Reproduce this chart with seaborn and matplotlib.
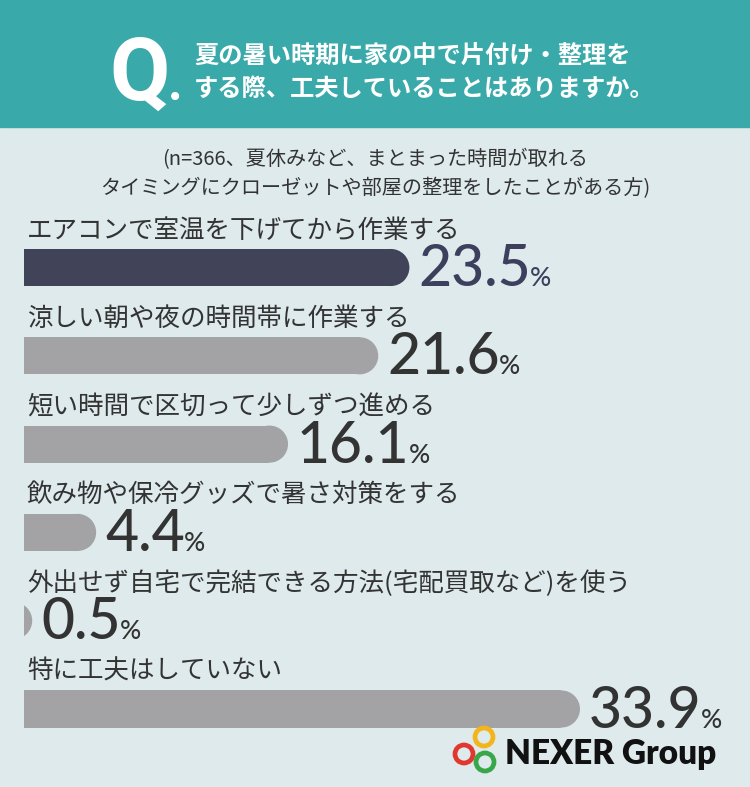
import matplotlib
matplotlib.use("Agg")
import matplotlib.pyplot as plt
from matplotlib.patches import Rectangle, Ellipse, Circle
import seaborn as sns

# data
categories = [
    "エアコンで室温を下げてから作業する",
    "涼しい朝や夜の時間帯に作業する",
    "短い時間で区切って少しずつ進める",
    "飲み物や保冷グッズで暑さ対策をする",
    "外出せず自宅で完結できる方法(宅配買取など)を使う",
    "特に工夫はしていない",
]
values = [23.5, 21.6, 16.1, 4.4, 0.5, 33.9]
highlight = [True, False, False, False, False, False]

question = ["夏の暑い時期に家の中で片付け・整理を", "する際、工夫していることはありますか。"]
note = ["(n=366、夏休みなど、まとまった時間が取れる",
        "タイミングにクローゼットや部屋の整理をしたことがある方)"]

TEAL = "#3aa9aa"
BG = "#deeaec"
NAVY = "#3d405c"
GREY = "#a2a3a7"
TXT = "#333333"

sns.set_theme(style="white")
plt.rcParams["font.family"] = ["Noto Sans CJK JP", "DejaVu Sans"]

W, H = 750, 787
fig = plt.figure(figsize=(W / 100, H / 100), dpi=100)
fig.patch.set_facecolor(BG)


def fx(x):
    return x / W


def fy(y):
    return 1 - y / H


# header band
fig.add_artist(Rectangle((0, fy(127)), 1, 127 / H, transform=fig.transFigure,
                         color=TEAL, zorder=0))
fig.text(fx(109), fy(100), "Q", color="white", fontsize=63, fontweight="bold",
         family=["Roboto", "DejaVu Sans"], va="baseline", ha="left")
fig.text(fx(168), fy(100), ".", color="white", fontsize=36, fontweight="bold",
         family=["Roboto", "DejaVu Sans"], va="baseline", ha="left")
fig.text(fx(194), fy(56), question[0], color="white", fontsize=17.5,
         fontweight="bold", va="center", ha="left")
fig.text(fx(194), fy(89), question[1], color="white", fontsize=17.5,
         fontweight="bold", va="center", ha="left")

# sample note
fig.text(0.5, fy(160), note[0], color=TXT, fontsize=14.5, va="center", ha="center")
fig.text(0.5, fy(189), note[1], color=TXT, fontsize=14.5, va="center", ha="center")

# bar axes
PX_X = 16.4      # pixels per percent
PX_Y = 88.3      # pixels per category
top_px, left_px = 200, 24
ax = fig.add_axes([fx(left_px), 0, 1 - fx(left_px), (H - top_px) / H])
ax.set_facecolor("none")

colors = [NAVY if h else GREY for h in highlight]
sns.barplot(x=values, y=categories, hue=categories, palette=colors, orient="h",
            width=0.42, legend=False, ax=ax)

ax.set_xlim(0, (W - left_px) / PX_X)
ax.set_ylim((H - 267.5) / PX_Y, (top_px - 267.5) / PX_Y)
ax.set_xticks([])
ax.set_yticks([])
ax.set_xlabel("")
ax.set_ylabel("")
for s in ax.spines.values():
    s.set_visible(False)

# rounded right ends
for p in list(ax.patches):
    x0, y0, w, h = p.get_x(), p.get_y(), p.get_width(), p.get_height()
    if w <= 0:
        continue
    rx = (h / 2) * PX_Y / PX_X
    p.set_width(max(w - rx, 0))
    p.set_edgecolor("none")
    ax.add_patch(Ellipse((x0 + w - rx, y0 + h / 2), 2 * rx, h,
                         facecolor=p.get_facecolor(), edgecolor="none"))

# labels
fig.canvas.draw()
renderer = fig.canvas.get_renderer()
half = 0.42 / 2
for i, (cat, v, hl) in enumerate(zip(categories, values, highlight)):
    ax.text(3 / PX_X, i - 37 / PX_Y, cat, color=TXT, fontsize=18.4,
            va="center", ha="left", clip_on=False)
    col = NAVY if hl else TXT
    t = ax.text(v + 9 / PX_X, i + half, f"{v:.1f}", color=col, fontsize=41,
                fontweight="medium", family=["Lato", "DejaVu Sans"],
                va="baseline", ha="left", clip_on=False)
    bb = t.get_window_extent(renderer)
    xr = ax.transData.inverted().transform((bb.x1 - 1, bb.y0))[0]
    ax.text(xr, i + half, "%", color=col, fontsize=19,
            fontweight="medium", family=["Lato", "DejaVu Sans"],
            va="baseline", ha="left", clip_on=False)

# logo
ring_specs = [(484, 737, "#f2b51c"), (464, 754, "#e0382f"), (485, 762, "#3aa64a")]
for cx, cy, c in ring_specs:
    fig.add_artist(Circle((cx / 100, (H - cy) / 100), 9 / 100,
                          transform=fig.dpi_scale_trans, fill=False,
                          edgecolor=c, linewidth=3.4))
fig.text(fx(505), fy(764), "NEXER Group", color="#111111", fontsize=24,
         fontweight="heavy", family=["Lato", "DejaVu Sans"],
         va="baseline", ha="left")

fig.savefig("out.png", dpi=100, facecolor=BG)
